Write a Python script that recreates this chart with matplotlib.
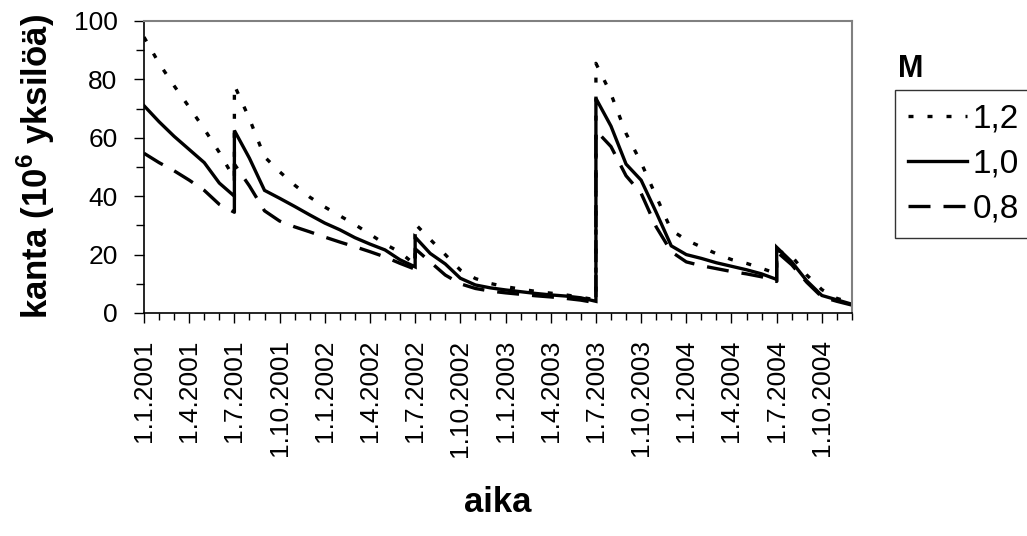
import matplotlib
matplotlib.use('Agg')
import matplotlib.pyplot as plt
from matplotlib.lines import Line2D

plt.rcParams['font.family'] = ['Liberation Sans', 'DejaVu Sans']
plt.rcParams['mathtext.fontset'] = 'custom'
plt.rcParams['mathtext.rm'] = 'Liberation Sans'
plt.rcParams['mathtext.bf'] = 'Liberation Sans:bold'

# kuukausi 0 = 1.1.2001, hyppy (istutus) aina 1.7.
months = [0, 1, 2, 3, 4, 5, 6, 6, 7, 8, 9, 10, 11, 12, 13, 14, 15, 16, 17, 18, 18,
          19, 20, 21, 22, 23, 24, 25, 26, 27, 28, 29, 30, 30,
          31, 32, 33, 34, 35, 36, 37, 38, 39, 40, 41, 42, 42, 43, 44, 45, 46, 47]

m_12 = [94.5, 85.5, 77.8, 70.5, 63.0, 55.0, 46.0, 78.0,
        66.5, 53.5, 48.4, 43.8, 39.7, 36.3, 33.3, 30.3, 27.0, 23.6, 20.8, 16.5, 30.5,
        25.2, 20.0, 14.7, 11.8, 10.1, 9.0, 8.2, 7.4, 6.8, 6.2, 5.4, 4.5, 85.5,
        75.0, 61.5, 51.5, 40.0, 28.4, 25.0, 22.6, 20.3, 18.3, 17.0, 15.3, 13.5, 21.5,
        19.5, 13.0, 8.0, 5.0, 3.5]

m_10 = [71.0, 65.5, 60.5, 56.0, 51.5, 44.5, 40.0, 62.5,
        53.0, 42.0, 39.3, 36.5, 33.6, 30.8, 28.5, 25.8, 23.6, 21.6, 18.2, 15.8, 26.0,
        20.4, 16.8, 11.9, 9.6, 8.6, 7.9, 7.3, 6.7, 6.2, 5.8, 5.2, 4.0, 73.5,
        64.0, 51.0, 45.5, 34.5, 23.0, 20.0, 18.7, 17.2, 16.0, 14.8, 13.4, 11.5, 22.5,
        17.5, 11.0, 6.0, 4.5, 3.0]

m_08 = [54.7, 51.5, 48.7, 45.5, 42.0, 37.2, 34.5, 51.0,
        43.5, 35.0, 31.5, 29.5, 27.8, 26.0, 24.3, 22.7, 21.0, 19.2, 17.0, 15.0, 22.0,
        17.5, 13.0, 10.0, 8.4, 7.5, 6.9, 6.4, 5.9, 5.5, 5.0, 4.4, 3.5, 62.5,
        57.0, 47.0, 41.0, 29.5, 21.0, 17.5, 16.2, 15.2, 14.2, 13.4, 12.4, 10.8, 21.0,
        16.5, 10.5, 5.5, 4.0, 2.7]

series_labels = ['1,2', '1,0', '0,8']
tick_labels = ['1.1.2001', '1.4.2001', '1.7.2001', '1.10.2001',
               '1.1.2002', '1.4.2002', '1.7.2002', '1.10.2002',
               '1.1.2003', '1.4.2003', '1.7.2003', '1.10.2003',
               '1.1.2004', '1.4.2004', '1.7.2004', '1.10.2004']

W, H = 1027, 536
fig = plt.figure(figsize=(W / 100, H / 100), dpi=100)
ax = fig.add_axes([144 / W, 1 - 313 / H, 708 / W, 292 / H])

lw = 2.4
styles = [(0, (1.5, 4.2)), '-', (0, (6.6, 3.9))]
for vals, ls, lab in zip([m_12, m_10, m_08], styles, series_labels):
    ax.plot(months, vals, color='black', lw=lw, linestyle=ls, label=lab,
            solid_joinstyle='miter', dash_capstyle='butt')

ax.set_xlim(0, 47)
ax.set_ylim(0, 100)
ax.set_xticks(range(0, 48, 3))
ax.set_xticks(range(0, 48), minor=True)
ax.set_xticklabels(tick_labels, rotation=90, fontsize=19)
ax.set_yticks(range(0, 101, 20))
ax.set_yticks(range(10, 100, 20), minor=True)
ax.tick_params(axis='y', which='major', labelsize=19, length=7, width=1, pad=12)
ax.tick_params(axis='y', which='minor', length=6, width=1)
ax.tick_params(axis='x', which='major', length=7, width=1, pad=12)
ax.tick_params(axis='x', which='minor', length=5, width=1)

for side in ['top', 'right']:
    ax.spines[side].set_color('#808080')
    ax.spines[side].set_linewidth(1.5)
for side in ['left', 'bottom']:
    ax.spines[side].set_color('black')
    ax.spines[side].set_linewidth(1.2)

fig.text(36 / W, 1 - 167 / H, r'kanta (10$^{\mathbf{6}}$ yksilöä)', rotation=90,
         ha='center', va='center', fontsize=25, fontweight='bold')
fig.text(498 / W, 1 - 503 / H, 'aika', ha='center', va='center',
         fontsize=25, fontweight='bold')
fig.text(898 / W, 1 - 69 / H, 'M', ha='left', va='center',
         fontsize=22, fontweight='bold')

handles = [Line2D([], [], color='black', lw=lw, linestyle=ls) for ls in styles]
leg = fig.legend(handles, series_labels, loc='upper left',
                 bbox_to_anchor=(895 / W, 1 - 90 / H), fontsize=24,
                 frameon=True, fancybox=False, edgecolor='black',
                 handlelength=1.75, handletextpad=0.18, labelspacing=0.42,
                 borderpad=0.4, borderaxespad=0)
leg.get_frame().set_linewidth(1.0)

fig.savefig('out.png', dpi=100)
